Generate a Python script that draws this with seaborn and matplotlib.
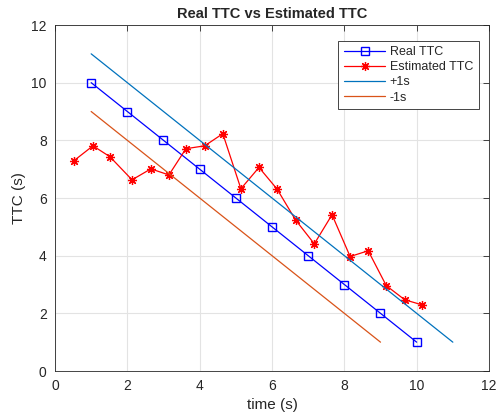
import numpy as np
import pandas as pd
import seaborn as sns
import matplotlib.pyplot as plt

# data
real_t = [1, 2, 3, 4, 5, 6, 7, 8, 9, 10]
real_ttc = [10, 9, 8, 7, 6, 5, 4, 3, 2, 1]

est_t = [0.52, 1.05, 1.52, 2.13, 2.65, 3.15, 3.62, 4.14, 4.64, 5.14,
         5.64, 6.14, 6.65, 7.17, 7.66, 8.16, 8.66, 9.16, 9.67, 10.16]
est_ttc = [7.29, 7.81, 7.43, 6.63, 7.01, 6.80, 7.71, 7.81, 8.23, 6.32,
           7.06, 6.31, 5.24, 4.41, 5.42, 3.97, 4.17, 2.96, 2.47, 2.29]

plus_t = [1, 11]
plus_ttc = [11, 1]
minus_t = [1, 9]
minus_ttc = [9, 1]

sns.set_style("whitegrid")
plt.rcParams['font.family'] = ['Liberation Sans', 'DejaVu Sans']

fig = plt.figure(figsize=(5.02, 4.15), dpi=100)
ax = fig.add_axes([55 / 502, 44 / 415, 434 / 502, 346 / 415])

sns.lineplot(x=real_t, y=real_ttc, ax=ax, color=(0, 0, 1), lw=0.9,
             marker='s', markersize=5.5, markerfacecolor='none',
             markeredgecolor=(0, 0, 1), markeredgewidth=1, label='Real TTC')
sns.lineplot(x=est_t, y=est_ttc, ax=ax, color=(1, 0, 0), lw=0.9,
             marker=(8, 2, 0), markersize=6.5, markeredgecolor=(1, 0, 0),
             markeredgewidth=0.9, label='Estimated TTC')
sns.lineplot(x=plus_t, y=plus_ttc, ax=ax, color=(0, 0.447, 0.741), lw=0.9,
             label='+1s')
sns.lineplot(x=minus_t, y=minus_ttc, ax=ax, color=(0.85, 0.325, 0.098), lw=0.9,
             label='-1s')

ax.set_xlim(0, 12)
ax.set_ylim(0, 12)
ax.set_xticks(np.arange(0, 13, 2))
ax.set_yticks(np.arange(0, 13, 2))
ax.grid(True, color='#e3e3e3', lw=0.8)
for s in ax.spines.values():
    s.set_color('#262626')
    s.set_linewidth(0.6)
ax.tick_params(direction='in', length=4, top=True, right=True, pad=6,
               labelsize=10, colors='#262626', width=0.6)
ax.set_xlabel('time (s)', fontsize=11, labelpad=3)
ax.set_ylabel('TTC (s)', fontsize=11)
ax.set_title('Real TTC vs Estimated TTC', fontsize=10.5, fontweight='bold', pad=5)

leg = ax.legend(loc='upper right', bbox_to_anchor=(0.976, 0.955), fontsize=9,
                fancybox=False, framealpha=1, edgecolor='#262626',
                borderaxespad=0, labelspacing=0.25, handlelength=3.3,
                handletextpad=0.35, borderpad=0.45)
leg.get_frame().set_linewidth(0.6)

fig.savefig('out.png', dpi=100)
